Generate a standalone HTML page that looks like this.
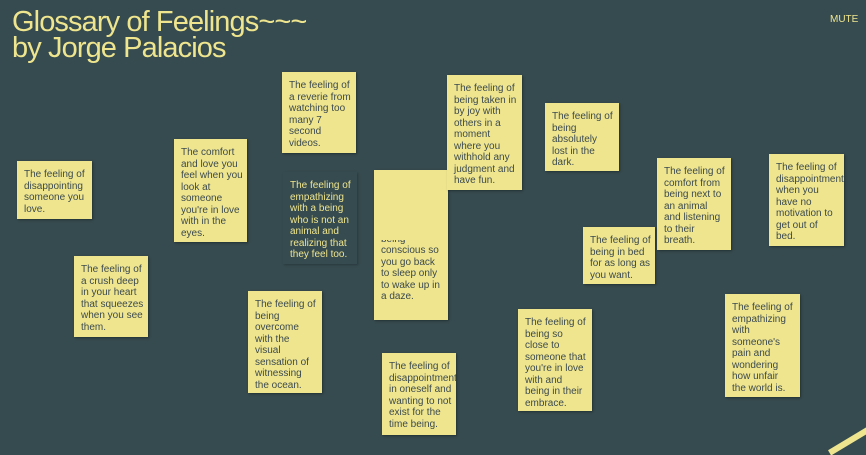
<!DOCTYPE html>
<html><head><style>
html,body{margin:0;padding:0;}
body{width:866px;height:454px;background:#364b4f;position:relative;overflow:hidden;font-family:"Liberation Sans",Arial,sans-serif;}
.t{position:absolute;left:12px;top:9px;color:#efe58e;font-size:29px;line-height:26px;letter-spacing:-0.9px;}
.m{position:absolute;left:830px;top:14px;color:#efe58e;font-size:10px;}
.n{position:absolute;background:#efe58f;color:#3b4a4e;font-size:10px;line-height:11.5px;padding:8px 0 0 7px;box-sizing:border-box;box-shadow:1px 1px 2px rgba(0,0,0,.35);white-space:nowrap;overflow:hidden;}
.d{background:#364b4f;color:#efe58e;box-shadow:1px 1px 2px rgba(0,0,0,.25);}
.s{position:absolute;left:826px;top:437px;width:50px;height:6px;background:#efe58e;transform:rotate(-31deg);}
</style></head><body>
<div class="t">Glossary of Feelings~~~<br>by Jorge Palacios</div>
<div class="m">MUTE</div>
<div class="n" style="left:17px;top:161px;width:75px;height:58px;">The feeling of<br>disappointing<br>someone you<br>love.</div>
<div class="n" style="left:174px;top:139px;width:73px;height:103px;">The comfort<br>and love you<br>feel when you<br>look at<br>someone<br>you're in love<br>with in the<br>eyes.</div>
<div class="n" style="left:282px;top:72px;width:74px;height:81px;">The feeling of<br>a reverie from<br>watching too<br>many 7<br>second<br>videos.</div>
<div class="n d" style="left:283px;top:172px;width:74px;height:92px;">The feeling of<br>empathizing<br>with a being<br>who is not an<br>animal and<br>realizing that<br>they feel too.</div>
<div class="n" style="left:374px;top:170px;width:74px;height:150px;padding-top:70px;"><div style="height:5px;overflow:hidden;"><div style="margin-top:-6px">being</div></div>conscious so<br>you go back<br>to sleep only<br>to wake up in<br>a daze.</div>
<div class="n" style="left:447px;top:75px;width:75px;height:115px;">The feeling of<br>being taken in<br>by joy with<br>others in a<br>moment<br>where you<br>withhold any<br>judgment and<br>have fun.</div>
<div class="n" style="left:545px;top:103px;width:74px;height:68px;">The feeling of<br>being<br>absolutely<br>lost in the<br>dark.</div>
<div class="n" style="left:657px;top:158px;width:74px;height:92px;">The feeling of<br>comfort from<br>being next to<br>an animal<br>and listening<br>to their<br>breath.</div>
<div class="n" style="left:769px;top:154px;width:75px;height:92px;">The feeling of<br>disappointment<br>when you<br>have no<br>motivation to<br>get out of<br>bed.</div>
<div class="n" style="left:583px;top:227px;width:72px;height:57px;">The feeling of<br>being in bed<br>for as long as<br>you want.</div>
<div class="n" style="left:74px;top:256px;width:74px;height:81px;">The feeling of<br>a crush deep<br>in your heart<br>that squeezes<br>when you see<br>them.</div>
<div class="n" style="left:248px;top:291px;width:74px;height:102px;">The feeling of<br>being<br>overcome<br>with the<br>visual<br>sensation of<br>witnessing<br>the ocean.</div>
<div class="n" style="left:382px;top:353px;width:74px;height:82px;">The feeling of<br>disappointment<br>in oneself and<br>wanting to not<br>exist for the<br>time being.</div>
<div class="n" style="left:518px;top:309px;width:74px;height:102px;">The feeling of<br>being so<br>close to<br>someone that<br>you're in love<br>with and<br>being in their<br>embrace.</div>
<div class="n" style="left:725px;top:294px;width:75px;height:103px;">The feeling of<br>empathizing<br>with<br>someone's<br>pain and<br>wondering<br>how unfair<br>the world is.</div>
<div class="s"></div>
</body></html>
